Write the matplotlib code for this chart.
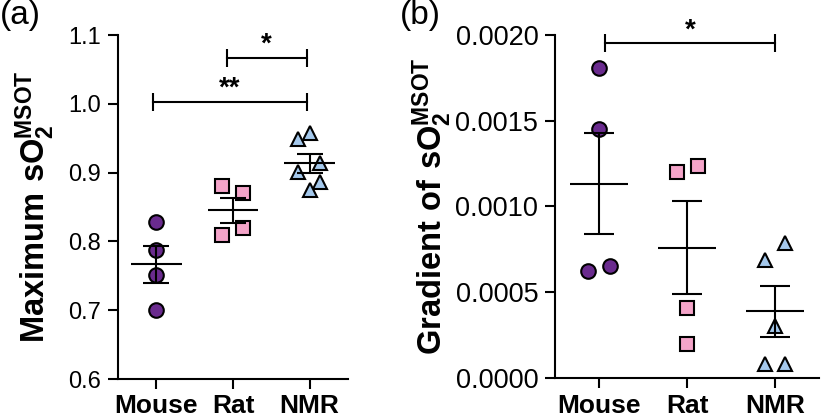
import numpy as np
import matplotlib
matplotlib.use('Agg')
import matplotlib.pyplot as plt

plt.rcParams['font.family'] = ['Liberation Sans', 'DejaVu Sans']
plt.rcParams['mathtext.fontset'] = 'custom'
plt.rcParams['mathtext.rm'] = 'Liberation Sans'
plt.rcParams['mathtext.bf'] = 'Liberation Sans:bold'

groups = ['Mouse', 'Rat', 'NMR']
colors = ['#6a2b8e', '#f4a4c9', '#a4c8ec']
markers = ['o', 's', '^']

# panel (a): maximum sO2
max_mouse = [0.828, 0.788, 0.751, 0.701]
max_rat = [0.880, 0.871, 0.820, 0.809]
max_nmr = [0.958, 0.949, 0.914, 0.901, 0.886, 0.875]
# horizontal jitter as seen in the figure
jit_a = [[0, 0, 0, 0], [-0.15, 0.13, 0.13, -0.15], [0, -0.15, 0.13, -0.15, 0.13, 0]]

# panel (b): gradient of sO2
grad_mouse = [0.001804, 0.001449, 0.000626, 0.000655]
grad_rat = [0.001203, 0.001236, 0.000407, 0.000198]
grad_nmr = [0.000786, 0.000689, 0.000306, 0.000082, 0.000082]
jit_b = [[0, 0, -0.12, 0.12], [-0.11, 0.12, 0, 0], [0.11, -0.11, 0, -0.11, 0.11]]

# significance bars: (x1, x2, y, label)
sig_a = [(0.92, 1.96, 1.067, '*'), (-0.04, 1.96, 1.003, '**')]
sig_b = [(0.07, 2.0, 0.00195, '*')]


def panel(ax, data, jit, sig, ylim, yticks, fmt, capsize, ylabel, labx, ytsize):
    for i, vals in enumerate(data):
        vals = np.array(vals)
        x = i + np.array(jit[i])
        ax.plot(x, vals, linestyle='none', marker=markers[i], ms=10.5,
                mfc=colors[i], mec='black', mew=1.5, zorder=2)
        m = vals.mean()
        sem = vals.std(ddof=1) / np.sqrt(len(vals))
        ax.errorbar(i, m, yerr=sem, color='black', lw=1.5, capsize=capsize,
                    capthick=1.5, zorder=3)
        ax.hlines(m, i - 0.33, i + 0.33, color='black', lw=1.5, zorder=3)
    for x1, x2, y, lab in sig:
        ax.plot([x1, x2], [y, y], color='black', lw=1.5, marker='|', ms=13, mew=1.5,
                clip_on=False)
        ax.text((x1 + x2) / 2, y, lab, ha='center', va='bottom', fontsize=20,
                fontweight='bold')
    ax.set_xlim(-0.5, 2.5)
    ax.set_ylim(*ylim)
    ax.set_yticks(yticks)
    ax.set_yticklabels([fmt.format(v) for v in yticks])
    ax.set_xticks(range(3))
    ax.set_xticklabels(groups, fontweight='bold', fontsize=19)
    ax.tick_params(axis='y', labelsize=ytsize, length=7, width=1.5, pad=5)
    ax.tick_params(axis='x', length=7, width=1.5, pad=4)
    for s in ['top', 'right']:
        ax.spines[s].set_visible(False)
    for s in ['left', 'bottom']:
        ax.spines[s].set_linewidth(1.5)
    ax.set_ylabel(ylabel, fontsize=23.5)
    ax.yaxis.set_label_coords(labx, 0.5)


fig = plt.figure(figsize=(8.25, 4.19), dpi=100)
ax1 = fig.add_axes([118 / 825, 40 / 419, 230 / 825, 344 / 419])
ax2 = fig.add_axes([555 / 825, 40.7 / 419, 264 / 825, 343.6 / 419])

panel(ax1, [max_mouse, max_rat, max_nmr], jit_a, sig_a, (0.6, 1.1),
      [0.6, 0.7, 0.8, 0.9, 1.0, 1.1], '{:.1f}', 9.5,
      r'$\mathbf{Maximum\ sO_2^{MSOT}}$', -0.267, 17)
panel(ax2, [grad_mouse, grad_rat, grad_nmr], jit_b, sig_b, (0, 0.002),
      [0, 0.0005, 0.001, 0.0015, 0.002], '{:.4f}', 11,
      r'$\mathbf{Gradient\ of\ sO_2^{MSOT}}$', -0.383, 19.5)

fig.text(0.0, 1.0, '(a)', fontsize=24, ha='left', va='top')
fig.text(400 / 825, 1.0, '(b)', fontsize=24, ha='left', va='top')

fig.savefig('out.png', dpi=100)
